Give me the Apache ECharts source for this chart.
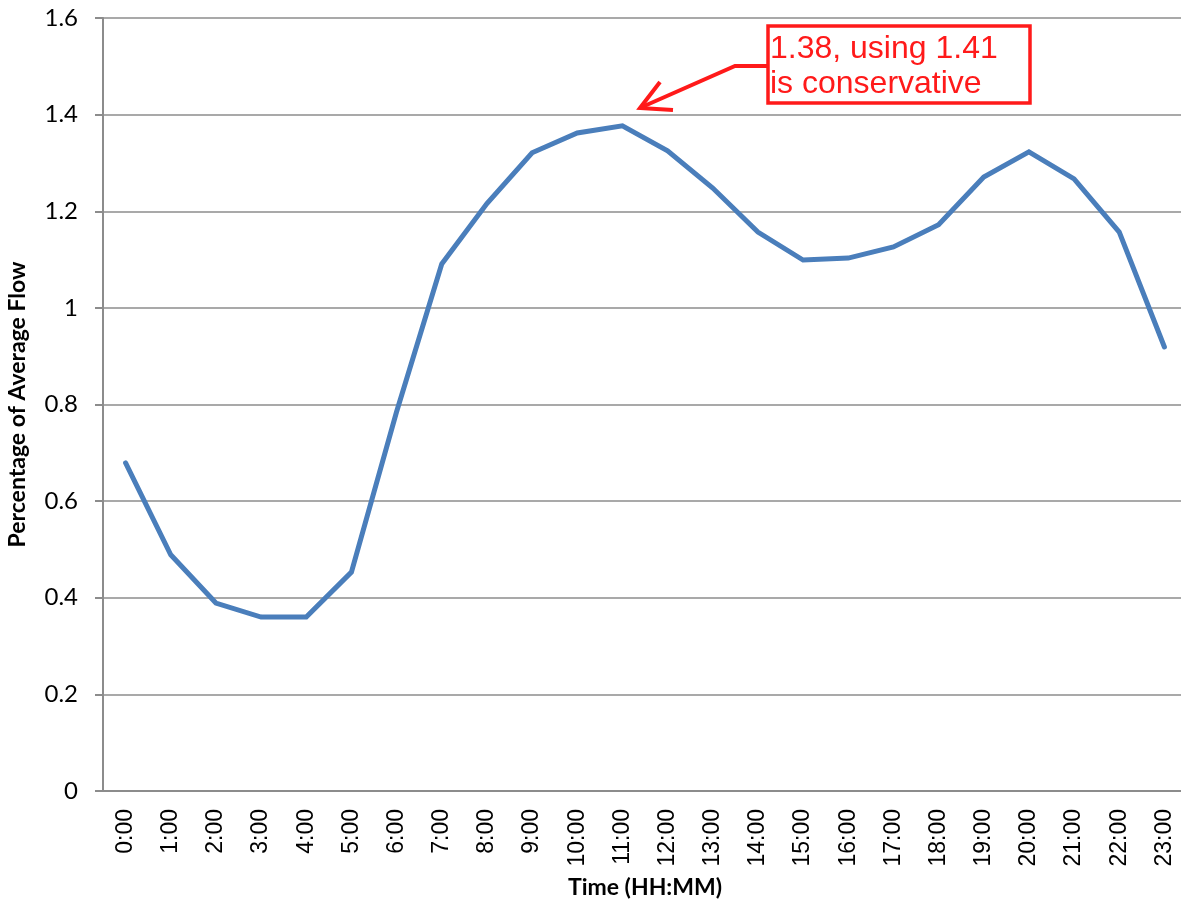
<!DOCTYPE html>
<html>
<head>
<meta charset="utf-8">
<script src="https://cdn.jsdelivr.net/npm/echarts@6/dist/echarts.min.js"></script>
<style>
html,body{margin:0;padding:0;background:#fff;}
#chart{width:1181px;height:907px;}
</style>
</head>
<body>
<div id="chart"></div>
<script>
const hours = ['0:00','1:00','2:00','3:00','4:00','5:00','6:00','7:00','8:00','9:00','10:00','11:00','12:00','13:00','14:00','15:00','16:00','17:00','18:00','19:00','20:00','21:00','22:00','23:00'];
const flowFactor = [0.679,0.489,0.389,0.360,0.360,0.453,0.785,1.091,1.216,1.321,1.362,1.377,1.325,1.248,1.157,1.099,1.103,1.126,1.172,1.271,1.323,1.267,1.157,0.919];
const yTicks = [0,0.2,0.4,0.6,0.8,1,1.2,1.4,1.6];
const noteLines = ['1.38, using 1.41','is conservative'];

const chart = echarts.init(document.getElementById('chart'), null, {renderer:'canvas'});
const red = '#ff1a1a';
chart.setOption({
  animation:false,
  backgroundColor:'#fff',
  grid:{left:103,right:-6,top:18,bottom:116,containLabel:false,outerBoundsMode:'none'},
  xAxis:{
    type:'category',
    data:hours,
    boundaryGap:true,
    axisLine:{lineStyle:{color:'#8c8c8c',width:2}},
    axisTick:{show:false},
    axisLabel:{rotate:90,color:'#000',fontFamily:'Liberation Sans',fontSize:23,margin:18,interval:0},
    name:'Time (HH:MM)',
    nameLocation:'middle',
    nameGap:97,
    nameMoveOverlap:false,
    nameTextStyle:{fontFamily:'Lato',fontWeight:'bold',fontSize:23,color:'#000',verticalAlign:'middle'}
  },
  yAxis:{
    type:'value',
    min:0,max:1.6,interval:0.2,
    axisLine:{show:true,lineStyle:{color:'#8c8c8c',width:2}},
    axisTick:{show:true,length:8,lineStyle:{color:'#8c8c8c',width:2}},
    splitLine:{lineStyle:{color:'#8c8c8c',width:1.5}},
    axisLabel:{color:'#000',fontFamily:'Lato',fontSize:24,margin:25,
      formatter:v=>{const t=yTicks.find(x=>Math.abs(x-v)<1e-9);return t===undefined?'':String(t);}},
    name:'Percentage of Average Flow',
    nameLocation:'middle',
    nameGap:85,
    nameMoveOverlap:false,
    nameTextStyle:{fontFamily:'Lato',fontWeight:'bold',fontSize:23,color:'#000',verticalAlign:'middle'}
  },
  series:[{
    type:'line',
    data:flowFactor,
    symbol:'none',
    lineStyle:{color:'#4a7ebb',width:5,join:'miter',cap:'round'},
    itemStyle:{color:'#4a7ebb'}
  }],
  graphic:[
    {type:'rect',shape:{x:768,y:26,width:262,height:77},style:{fill:'#fff',stroke:red,lineWidth:3.5},z:100},
    {type:'text',x:770,y:32,style:{text:noteLines.join('\n'),fill:red,fontFamily:'Liberation Sans',fontSize:32,lineHeight:35},z:101},
    {type:'polyline',shape:{points:[[767,66],[735,66],[642,107]]},style:{stroke:red,lineWidth:4,fill:null},z:100},
    {type:'polyline',shape:{points:[[660,82],[640,108],[673,110]]},style:{stroke:red,lineWidth:4,fill:null},z:100}
  ]
});
</script>
</body>
</html>
